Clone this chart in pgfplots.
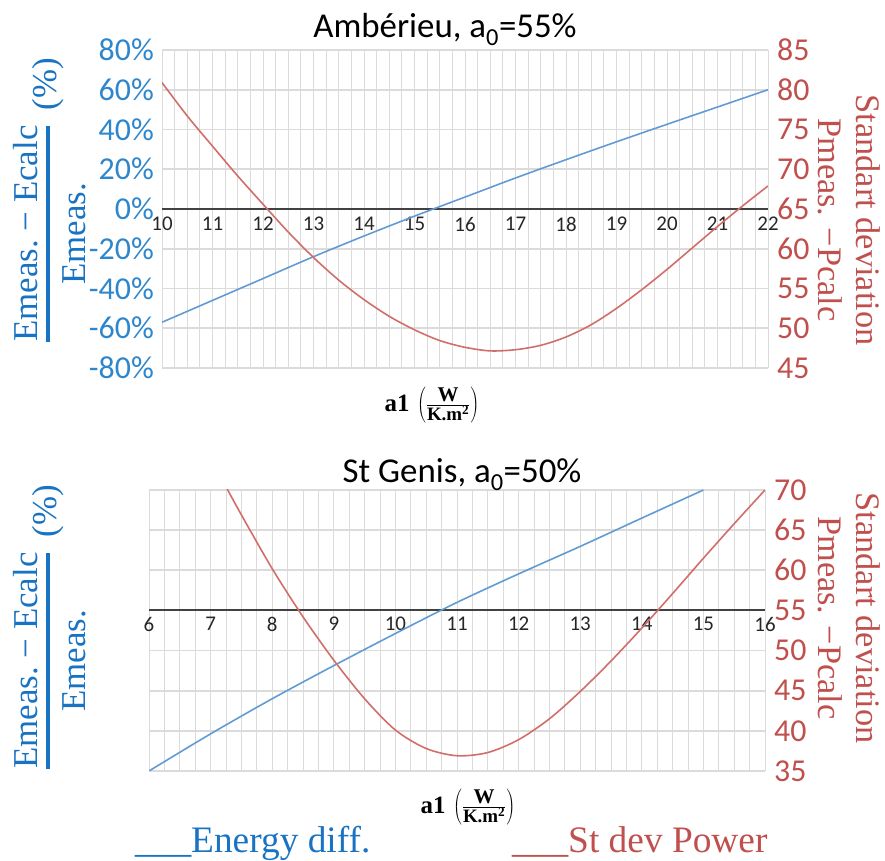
\documentclass[border=0pt]{standalone}
\usepackage{pgfplots}
\pgfplotsset{compat=1.18}
\usepackage{pgfplotstable}
\usepackage{fontspec}
\setmainfont{Carlito}
\newfontfamily\serif{Liberation Serif}
\definecolor{tickblue}{RGB}{46,134,204}
\definecolor{labblue}{RGB}{25,115,195}
\definecolor{tickred}{RGB}{192,80,77}
\definecolor{lineblue}{RGB}{98,155,212}
\definecolor{linered}{RGB}{210,110,105}
\definecolor{gridc}{RGB}{219,219,219}
\definecolor{zeroc}{RGB}{65,65,65}

\pgfplotstableread{
a e
10 -57
11 -46
12 -35
13 -24
14 -13.6
15 -3.6
16 6
17 15.6
18 24.8
19 33.8
20 42.6
21 51.3
22 60
}\topblue
\pgfplotstableread{
a s
10 80.9
10.5 76.7
11 72.9
11.5 69.15
12 65.6
12.5 62.1
13 58.9
13.5 56.05
14 53.6
14.5 51.5
15 49.8
15.5 48.45
16 47.6
16.5 47.15
17 47.3
17.5 47.85
18 48.9
18.5 50.45
19 52.5
19.5 54.85
20 57.4
20.5 60.1
21 62.8
21.5 65.4
22 67.9
}\topred
\pgfplotstableread{
a e
6 -80
7 -61.5
8 -44
9 -27.5
10 -11.5
11 4
12 18.2
13 31.9
14 46
15 60
}\botblue
\pgfplotstableread{
a s
7.25 70.4
7.5 66.9
8 60.2
8.5 54.2
9 48.8
9.5 44.0
10 40.1
10.5 37.8
11 36.9
11.5 37.3
12 38.9
12.5 41.5
13 44.9
13.5 48.7
14 52.8
14.5 57.1
15 61.5
15.5 65.8
16 70.0
}\botred

\pgfplotsset{
  common/.style={scale only axis, anchor=south west,
    axis line style={draw=none},
    major tick length=0pt, minor tick length=0pt,
    tick label style={font=\fontsize{32}{32}\selectfont},
    /pgf/number format/assume math mode=true},
  leftax/.style={common,
    minor x tick num=3,
    xmajorgrids, xminorgrids, ymajorgrids,
    major grid style={gridc, line width=1bp},
    minor grid style={gridc, line width=1bp},
    y grid style={gridc, line width=1.6bp},
    yticklabel style={text=tickblue, inner sep=0pt, anchor=east, xshift=-8bp},
    xticklabel style={font=\fontsize{21}{21}\selectfont, text=black!85, inner sep=0pt, anchor=north}},
  rightax/.style={common, axis y line*=right, axis x line=none,
    yticklabel style={text=tickred, inner sep=0pt, anchor=west, xshift=9bp}},
}

\newcommand\fraclab{\hbox{$\vcenter{\halign{\hfil##\hfil\cr
  Emeas.\hspace{0.25em}−\hspace{0.25em}Ecalc\cr
  \noalign{\kern8bp\hrule height 3.5bp\kern13bp}
  Emeas.\cr}}$\hspace{15bp}(\%)}}
\newcommand\xlab{a1\hspace{0.3em}$\left(\frac{\hbox{\fontsize{21}{21}\selectfont W}}{\hbox{\fontsize{19}{19}\selectfont K.m\textsuperscript{2}}}\right)$}

\begin{document}
\begin{tikzpicture}[x=1bp,y=1bp]
\path[use as bounding box] (0,0) rectangle (885,861);

% ---------- top chart ----------
\begin{axis}[leftax, at={(162bp,493bp)}, width=606bp, height=318bp,
  xmin=10, xmax=22, ymin=-80, ymax=80,
  xtick={10,...,22},
  ytick={-80,-60,...,80},
  yticklabels={-80\%,-60\%,-40\%,-20\%,0\%,20\%,40\%,60\%,80\%},
  xticklabel style={yshift=151bp}]
\addplot[zeroc, line width=2bp] coordinates {(10,0) (22,0)};
\addplot[lineblue, line width=1.6bp, smooth] table[x=a,y=e] {\topblue};
\end{axis}
\begin{axis}[rightax, at={(162bp,493bp)}, width=606bp, height=318bp,
  xmin=10, xmax=22, ymin=45, ymax=85, ytick={45,50,...,85}]
\addplot[linered, line width=1.6bp, smooth] table[x=a,y=s] {\topred};
\end{axis}

% ---------- bottom chart ----------
\begin{axis}[leftax, at={(149bp,90bp)}, width=616bp, height=281bp,
  xmin=6, xmax=16, ymin=-80, ymax=60,
  xtick={6,...,16},
  ytick={-80,-60,...,60},
  yticklabel style={opacity=0},
  xticklabel style={yshift=154bp}]
\addplot[zeroc, line width=2bp] coordinates {(6,0) (16,0)};
\addplot[lineblue, line width=1.6bp, smooth] table[x=a,y=e] {\botblue};
\end{axis}
\begin{axis}[rightax, at={(149bp,90bp)}, width=616bp, height=281bp,
  xmin=6, xmax=16, ymin=35, ymax=70, ytick={35,40,...,70}]
\addplot[linered, line width=1.6bp, smooth] table[x=a,y=s] {\botred};
\end{axis}

% ---------- titles ----------
\node[anchor=base, font=\fontsize{35}{35}\selectfont] at (445,823) {Ambérieu, a\textsubscript{0}=55\%};
\node[anchor=base, font=\fontsize{35}{35}\selectfont] at (462,378) {St Genis, a\textsubscript{0}=50\%};

% ---------- left labels ----------
\node[rotate=90, inner sep=0pt, text=labblue, font=\serif\fontsize{35}{40}\selectfont] at (50,661) {\fraclab};
\node[rotate=90, inner sep=0pt, text=labblue, font=\serif\fontsize{35}{40}\selectfont] at (50,234) {\fraclab};

% ---------- right labels ----------
\node[rotate=-90, inner sep=0pt, align=center, text=tickred, font=\serif\fontsize{34.5}{38}\selectfont] at (849,641) {Standart deviation\\Pmeas. −Pcalc};
\node[rotate=-90, inner sep=0pt, align=center, text=tickred, font=\serif\fontsize{34.5}{38}\selectfont] at (849,243) {Standart deviation\\Pmeas. −Pcalc};

% ---------- x labels ----------
\node[inner sep=0pt, font=\serif\bfseries\fontsize{25}{25}\selectfont] at (432,456) {\xlab};
\node[inner sep=0pt, font=\serif\bfseries\fontsize{25}{25}\selectfont] at (468,54) {\xlab};

% ---------- legend ----------
\node[anchor=base west, inner sep=0pt, text=labblue, font=\serif\fontsize{37.5}{37.5}\selectfont] at (135,8) {\_\_\_Energy diff.};
\node[anchor=base west, inner sep=0pt, text=tickred, font=\serif\fontsize{37.5}{37.5}\selectfont] at (512,8) {\_\_\_St dev Power};
\end{tikzpicture}
\end{document}
